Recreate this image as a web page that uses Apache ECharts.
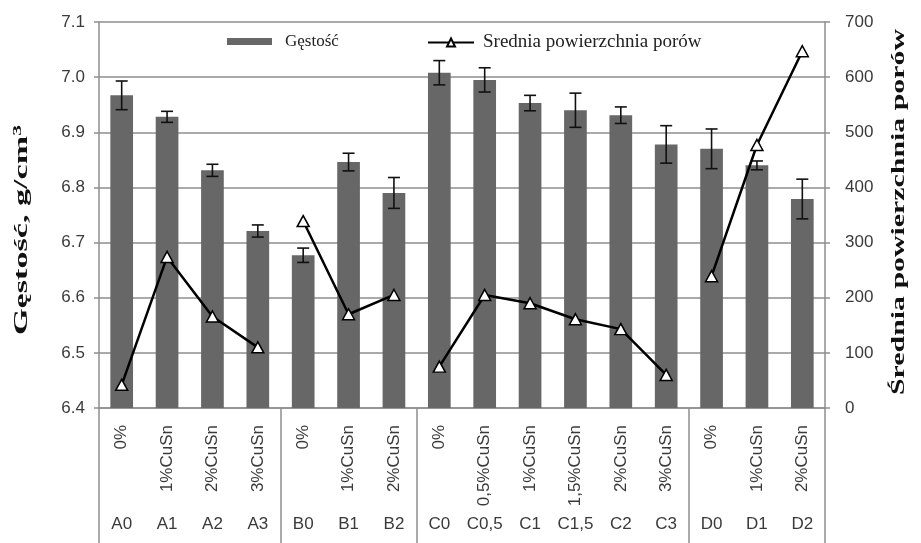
<!DOCTYPE html>
<html><head><meta charset="utf-8">
<script src="https://cdn.jsdelivr.net/npm/echarts@6/dist/echarts.min.js"></script>
<style>html,body{margin:0;padding:0;background:#fff}#c{width:921px;height:543px}</style>
</head><body><div id="c"></div>
<script>
// ---- data ----
const sampleCodes = ['A0','A1','A2','A3','B0','B1','B2','C0','C0,5','C1','C1,5','C2','C3','D0','D1','D2'];
const additiveLabels = ['0%','1%CuSn','2%CuSn','3%CuSn','0%','1%CuSn','2%CuSn','0%','0,5%CuSn','1%CuSn','1,5%CuSn','2%CuSn','3%CuSn','0%','1%CuSn','2%CuSn'];
const density = [6.967,6.928,6.831,6.721,6.677,6.846,6.790,7.008,6.995,6.953,6.940,6.931,6.878,6.870,6.840,6.779];
const densityError = [0.026,0.010,0.011,0.011,0.013,0.016,0.028,0.022,0.022,0.014,0.031,0.015,0.034,0.036,0.008,0.036];
const poreArea = [42,274,166,110,339,170,205,75,205,190,161,143,60,239,477,647];
const densityTicks = {min: 6.4, max: 7.1, interval: 0.1};
const areaTicks = {min: 0, max: 700, interval: 100};
const densityName = 'Gęstość';
const areaName = 'Srednia powierzchnia porów';
const leftTitle = ['Gęstość, g/cm', '3'];
const rightTitle = 'Średnia powierzchnia porów';

// ---- helpers ----
const groupOf = c => c[0];
const groups = [...new Set(sampleCodes.map(groupOf))];
const isGroupStart = i => i === 0 || groupOf(sampleCodes[i]) !== groupOf(sampleCodes[i - 1]);

const cv = document.createElement('canvas').getContext('2d');
function textLen(parts) {
  let w = 0;
  parts.forEach(p => { cv.font = p.font; w += cv.measureText(p.text).width; });
  return w;
}
const titleFont = 'bold 19px "Liberation Serif"';
const supFont = 'bold 12px "Liberation Serif"';
const leftLen = textLen([{font: titleFont, text: leftTitle[0]}, {font: supFont, text: leftTitle[1]}]);
const rightLen = textLen([{font: titleFont, text: rightTitle}]);
const leftScale = 210 / leftLen;
const rightScale = 366 / rightLen;

const gridColor = '#8e8e8e';
const labelColor = '#3a3a3a';
const sans = '"Liberation Sans", Arial, sans-serif';
const serif = '"Liberation Serif", "Times New Roman", serif';

const chart = echarts.init(document.getElementById('c'), null, {renderer: 'canvas'});

const lineSeries = groups.map(g => ({
  name: areaName,
  type: 'line',
  yAxisIndex: 1,
  data: poreArea.map((v, i) => groupOf(sampleCodes[i]) === g ? v : null),
  connectNulls: false,
  symbol: 'triangle',
  symbolSize: [12, 11],
  itemStyle: {color: '#fff', borderColor: '#000', borderWidth: 1.5},
  lineStyle: {color: '#000', width: 2.5},
  z: 5,
  animation: false
}));

const option = {
  animation: false,
  backgroundColor: '#fff',
  grid: {left: 99, right: 96, top: 22, bottom: 135, containLabel: false},
  legend: [
    {data: [densityName], left: 227, top: 33, padding: 0, itemWidth: 45, itemHeight: 7, icon: 'rect',
     textStyle: {fontFamily: serif, fontSize: 17, color: '#222', padding: [0, 0, 0, 8]}},
    {data: [areaName], left: 427, top: 33, padding: 0, itemWidth: 46, itemHeight: 10,
     textStyle: {fontFamily: serif, fontSize: 19, color: '#222', padding: [0, 0, 0, 4]}}
  ],
  xAxis: [
    {type: 'category', data: sampleCodes, position: 'bottom', boundaryGap: true,
     axisLine: {show: true, lineStyle: {color: gridColor, width: 1.5}},
     axisTick: {show: false},
     axisLabel: {interval: 0, rotate: 90, margin: 17, fontFamily: sans, fontSize: 17, color: labelColor,
                 formatter: (v, i) => additiveLabels[i]}},
    {type: 'category', data: sampleCodes, position: 'bottom', boundaryGap: true,
     axisLine: {show: false},
     axisTick: {show: true, interval: (i) => isGroupStart(i), length: 145, lineStyle: {color: gridColor, width: 1.5}},
     axisLabel: {show: false}},
    {type: 'category', data: sampleCodes, position: 'bottom', offset: 102, boundaryGap: true,
     axisLine: {show: false}, axisTick: {show: false},
     axisLabel: {interval: 0, margin: 6, fontFamily: sans, fontSize: 17, color: labelColor}}
  ],
  yAxis: [
    {type: 'value', min: densityTicks.min, max: densityTicks.max, interval: densityTicks.interval,
     axisLine: {show: true, lineStyle: {color: gridColor, width: 1.5}},
     axisTick: {show: true, length: 5, lineStyle: {color: gridColor, width: 1.5}},
     splitLine: {show: true, lineStyle: {color: gridColor, width: 1.5}},
     axisLabel: {margin: 14, fontFamily: sans, fontSize: 17, color: labelColor, formatter: v => v.toFixed(1)}},
    {type: 'value', min: areaTicks.min, max: areaTicks.max, interval: areaTicks.interval, position: 'right',
     axisLine: {show: true, lineStyle: {color: gridColor, width: 1.5}},
     axisTick: {show: true, length: 5, lineStyle: {color: gridColor, width: 1.5}},
     splitLine: {show: false},
     axisLabel: {margin: 20, fontFamily: sans, fontSize: 17, color: labelColor}}
  ],
  series: [
    {name: densityName, type: 'bar', data: density, barWidth: '50%', xAxisIndex: 0, yAxisIndex: 0,
     itemStyle: {color: '#676767'}, z: 2},
    {name: 'err', type: 'custom', xAxisIndex: 0, yAxisIndex: 0, z: 4,
     data: density.map((v, i) => [i, v - densityError[i], v + densityError[i]]),
     encode: {x: 0, y: [1, 2]},
     renderItem: (params, api) => {
       const lo = api.coord([api.value(0), api.value(1)]);
       const hi = api.coord([api.value(0), api.value(2)]);
       const w = 6;
       const st = {stroke: '#111', lineWidth: 1.6};
       return {type: 'group', children: [
         {type: 'line', shape: {x1: lo[0], y1: lo[1], x2: hi[0], y2: hi[1]}, style: st},
         {type: 'line', shape: {x1: hi[0] - w, y1: hi[1], x2: hi[0] + w, y2: hi[1]}, style: st},
         {type: 'line', shape: {x1: lo[0] - w, y1: lo[1], x2: lo[0] + w, y2: lo[1]}, style: st}
       ]};
     }},
    ...lineSeries
  ],
  graphic: [
    {type: 'text', x: 22, y: 230, rotation: Math.PI / 2, scaleX: leftScale, scaleY: 1,
     style: {text: '{a|' + leftTitle[0] + '}{s|' + leftTitle[1] + '}', align: 'center', verticalAlign: 'middle',
       rich: {a: {font: titleFont, fill: '#111', fontFamily: serif, fontSize: 19, fontWeight: 'bold'},
              s: {font: supFont, fill: '#111', fontFamily: serif, fontSize: 12, fontWeight: 'bold', verticalAlign: 'top', padding: [0, 0, 8, 0]}}}},
    {type: 'text', x: 899, y: 212, rotation: Math.PI / 2, scaleX: rightScale, scaleY: 1,
     style: {text: rightTitle, align: 'center', verticalAlign: 'middle', font: titleFont, fill: '#111'}}
  ]
};
chart.setOption(option);
</script>
</body></html>
